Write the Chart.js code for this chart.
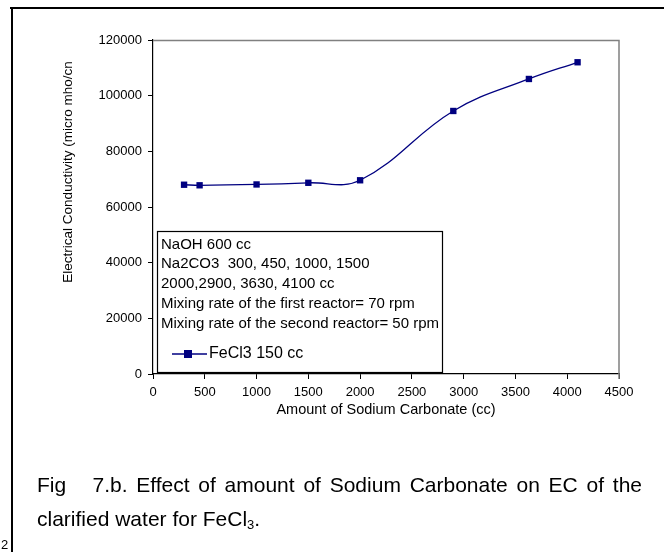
<!DOCTYPE html>
<html>
<head>
<meta charset="utf-8">
<script src="https://cdn.jsdelivr.net/npm/chart.js@4/dist/chart.umd.min.js"></script>
<style>
  html,body{margin:0;padding:0;background:#fff;}
  #wrap{position:relative;width:664px;height:552px;overflow:hidden;}
  #c{position:absolute;left:0;top:0;}
  .frameTop{position:absolute;left:10px;top:7px;width:660px;height:2px;background:#000;}
  .frameLeft{position:absolute;left:11px;top:7px;width:2px;height:560px;background:#000;}
  .cap{position:absolute;left:37px;font-family:"Liberation Sans",Arial,sans-serif;font-size:21px;line-height:24px;color:#000;white-space:nowrap;}
  #cap1{top:473px;width:605px;text-align:justify;text-align-last:justify;}
  #cap2{top:507px;}
  #pg{position:absolute;left:1px;top:537px;font-family:"Liberation Sans",Arial,sans-serif;font-size:13px;}
</style>
</head>
<body>
<div id="wrap">
  <canvas id="c" width="664" height="552"></canvas>
  <div class="frameTop"></div>
  <div class="frameLeft"></div>
  <div class="cap" id="cap1">Fig &nbsp; 7.b. Effect of amount of Sodium Carbonate on EC of the</div>
  <div class="cap" id="cap2">clarified water for FeCl<sub style="font-size:13px;vertical-align:-3px;line-height:0;">3</sub>.</div>
  <div id="pg">2</div>
</div>
<script>
const sodiumCarbonate = [300, 450, 1000, 1500, 2000, 2900, 3630, 4100];
const conductivity = [68000, 67800, 68100, 68700, 69600, 94500, 106000, 112000];
const seriesLabel = "FeCl3 150 cc";
const noteLines = [
  "NaOH 600 cc",
  "Na2CO3  300, 450, 1000, 1500",
  "2000,2900, 3630, 4100 cc",
  "Mixing rate of the first reactor= 70 rpm",
  "Mixing rate of the second reactor= 50 rpm"
];
const xTitle = "Amount of Sodium Carbonate (cc)";
const yTitle = "Electrical Conductivity (micro mho/cn";

const FONT = '"Liberation Sans", Arial, sans-serif';
const NAVY = '#000080';

const decor = {
  id: 'decor',
  afterDraw(chart) {
    const {ctx, chartArea: a} = chart;
    ctx.save();
    // gray plot border top/right
    ctx.strokeStyle = '#808080';
    ctx.lineWidth = 1.5;
    ctx.beginPath();
    ctx.moveTo(a.left, a.top + 0.5);
    ctx.lineTo(a.right, a.top + 0.5);
    ctx.lineTo(a.right, a.bottom + 5);
    ctx.stroke();
    // y title
    ctx.fillStyle = '#000';
    ctx.font = '13.5px ' + FONT;
    ctx.textAlign = 'center';
    ctx.textBaseline = 'middle';
    ctx.translate(68, 172);
    ctx.rotate(-Math.PI / 2);
    ctx.fillText(yTitle, 0, 0);
    ctx.restore();

    // x title
    ctx.save();
    ctx.fillStyle = '#000';
    ctx.font = '14.5px ' + FONT;
    ctx.textAlign = 'center';
    ctx.textBaseline = 'middle';
    ctx.fillText(xTitle, (a.left + a.right) / 2, 410);
    ctx.restore();

    // legend / note box
    ctx.save();
    const bx = 157.5, by = 231.5, bw = 285, bh = 141;
    ctx.fillStyle = '#fff';
    ctx.fillRect(bx, by, bw, bh);
    ctx.strokeStyle = '#000';
    ctx.lineWidth = 1.2;
    ctx.strokeRect(bx, by, bw, bh);
    ctx.fillStyle = '#000';
    ctx.font = '15px ' + FONT;
    ctx.textAlign = 'left';
    ctx.textBaseline = 'middle';
    noteLines.forEach((t, i) => ctx.fillText(t, 161, 244.5 + i * 19.75));
    // series sample
    const ds = chart.data.datasets[0];
    const ly = 354;
    ctx.strokeStyle = ds.borderColor;
    ctx.lineWidth = ds.borderWidth;
    ctx.beginPath();
    ctx.moveTo(172, ly);
    ctx.lineTo(207, ly);
    ctx.stroke();
    ctx.fillStyle = ds.pointBackgroundColor;
    ctx.fillRect(184, ly - 4, 8, 8);
    ctx.fillStyle = '#000';
    ctx.font = '16px ' + FONT;
    ctx.fillText(seriesLabel, 209, ly);
    ctx.restore();
  }
};

new Chart(document.getElementById('c'), {
  type: 'scatter',
  data: {
    datasets: [{
      label: seriesLabel,
      data: sodiumCarbonate.map((x, i) => ({x: x, y: conductivity[i]})),
      showLine: true,
      tension: 0.4,
      borderColor: NAVY,
      borderWidth: 1.3,
      pointStyle: 'rect',
      pointRadius: 4.5,
      pointBackgroundColor: NAVY,
      pointBorderColor: NAVY,
      pointBorderWidth: 0,
      pointHoverRadius: 4.5
    }]
  },
  options: {
    responsive: false,
    animation: false,
    events: [],
    layout: {padding: {left: 0, top: 40, right: 45, bottom: 0}},
    plugins: {legend: {display: false}, tooltip: {enabled: false}},
    scales: {
      x: {
        type: 'linear', min: 0, max: 4500,
        afterFit(s) { s.height = 178; },
        border: {display: true, color: '#000', width: 1.2},
        grid: {display: true, drawOnChartArea: false, drawTicks: true, tickLength: 5, color: '#000', lineWidth: 1},
        ticks: {stepSize: 500, color: '#000', font: {family: FONT, size: 13}, padding: 6, maxRotation: 0, autoSkip: false,
                callback: v => String(v)}
      },
      y: {
        type: 'linear', min: 0, max: 120000,
        afterFit(s) { s.width = 153; },
        border: {display: true, color: '#000', width: 1.2},
        grid: {display: true, drawOnChartArea: false, drawTicks: true, tickLength: 5, color: '#000', lineWidth: 1},
        ticks: {stepSize: 20000, color: '#000', font: {family: FONT, size: 13}, padding: 6,
                callback: v => String(v)}
      }
    }
  },
  plugins: [decor]
});
</script>
</body>
</html>
